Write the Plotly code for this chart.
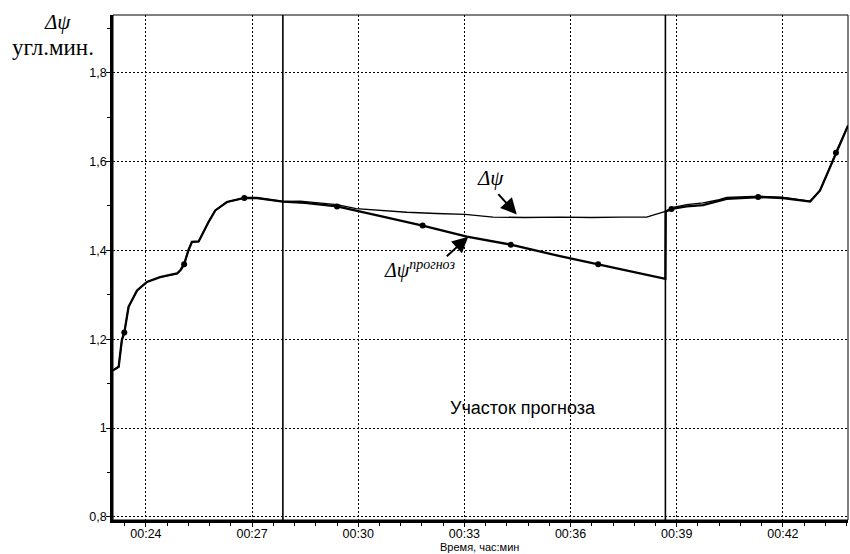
import plotly.graph_objects as go

# ---- data (minutes, angular minutes) ----
t_pre = [23.07, 23.23, 23.32, 23.39, 23.51, 23.75, 24.03, 24.40, 24.88, 24.98, 25.08,
         25.20, 25.30, 25.49, 25.77, 25.96, 26.29, 26.78, 27.14, 27.50, 27.87]
psi_pre = [1.130, 1.138, 1.198, 1.215, 1.273, 1.310, 1.329, 1.340, 1.348, 1.356, 1.369,
           1.400, 1.419, 1.420, 1.464, 1.490, 1.509, 1.518, 1.518, 1.514, 1.510]

t_meas_mid = [27.87, 28.36, 28.90, 29.40, 29.94, 30.60, 31.37, 32.20, 33.02, 33.81,
              34.70, 35.71, 36.60, 37.40, 38.15, 38.68]
psi_meas_mid = [1.510, 1.511, 1.507, 1.503, 1.494, 1.490, 1.486, 1.483, 1.481, 1.475,
                1.474, 1.475, 1.474, 1.475, 1.475, 1.488]

t_fc = [27.87, 28.50, 29.40, 30.60, 31.82, 33.07, 34.31, 35.70, 36.78, 37.40, 38.68, 38.69]
psi_fc = [1.510, 1.507, 1.499, 1.478, 1.456, 1.431, 1.413, 1.387, 1.369, 1.359, 1.336, 1.488]

t_post = [38.69, 38.90, 39.28, 39.74, 40.41, 41.35, 42.00, 42.77, 43.05, 43.33, 43.52, 43.84]
psi_post = [1.488, 1.494, 1.499, 1.502, 1.516, 1.520, 1.518, 1.510, 1.535, 1.587, 1.625, 1.681]

t_meas_post = [38.68, 38.90, 39.28, 39.74, 40.20, 40.41, 41.35, 42.00, 42.77, 43.05, 43.33, 43.52, 43.84]
psi_meas_post = [1.488, 1.497, 1.503, 1.507, 1.514, 1.519, 1.522, 1.519, 1.511, 1.535, 1.587, 1.625, 1.681]

t_marks = [23.39, 25.08, 26.78, 29.40, 31.82, 34.31, 36.78, 38.85, 41.30, 43.50]
psi_marks = [1.215, 1.369, 1.518, 1.499, 1.456, 1.413, 1.369, 1.493, 1.520, 1.620]

t_bounds = [27.87, 38.68]

x_tickvals = [24, 27, 30, 33, 36, 39, 42]
x_ticktext = ["00:24", "00:27", "00:30", "00:33", "00:36", "00:39", "00:42"]
y_tickvals = [0.8, 1.0, 1.2, 1.4, 1.6, 1.8]
y_ticktext = ["0,8", "1", "1,2", "1,4", "1,6", "1,8"]

fig = go.Figure()

# measured line (thin)
fig.add_trace(go.Scatter(x=t_pre + t_meas_mid + t_meas_post,
                         y=psi_pre + psi_meas_mid + psi_meas_post,
                         mode="lines", line=dict(color="black", width=1.4),
                         showlegend=False, hoverinfo="skip"))
# model / forecast line (thicker)
fig.add_trace(go.Scatter(x=t_pre + t_fc + t_post,
                         y=psi_pre + psi_fc + psi_post,
                         mode="lines", line=dict(color="black", width=2.3),
                         showlegend=False, hoverinfo="skip"))
# markers
fig.add_trace(go.Scatter(x=t_marks, y=psi_marks, mode="markers",
                         marker=dict(color="black", size=6),
                         showlegend=False, hoverinfo="skip"))

for tb in t_bounds:
    fig.add_shape(type="line", xref="x", yref="paper", x0=tb, x1=tb, y0=0, y1=1,
                  line=dict(color="black", width=1.6))

# thin frame on top/right
fig.add_shape(type="rect", xref="paper", yref="paper", x0=0, x1=1, y0=0, y1=1,
              line=dict(color="black", width=1))

serif = "Liberation Serif"
sans = "Liberation Sans"

fig.add_annotation(xref="paper", yref="paper", x=-0.075, y=0.986, text="<i>Δψ</i>",
                   xanchor="center", yanchor="middle",
                   showarrow=False, font=dict(family=serif, size=21, color="black"))
fig.add_annotation(xref="paper", yref="paper", x=-0.082, y=0.935, text="угл.мин.",
                   xanchor="center", yanchor="middle",
                   showarrow=False, font=dict(family=serif, size=23, color="black"))
fig.add_annotation(xref="paper", yref="paper", x=0.499, y=-0.053, text="Время, час:мин",
                   xanchor="center", yanchor="middle",
                   showarrow=False, font=dict(family=sans, size=11, color="black"))
fig.add_annotation(x=34.66, y=1.045, text="Участок прогноза", showarrow=False,
                   xanchor="center", yanchor="middle",
                   font=dict(family=sans, size=18, color="black"))

fig.add_annotation(x=33.73, y=1.562, text="<i>Δψ</i>", showarrow=False,
                   xanchor="center", yanchor="middle",
                   font=dict(family=serif, size=21, color="black"))
fig.add_annotation(x=31.72, y=1.357, text="<i>Δψ</i><sup><i>прогноз</i></sup>", showarrow=False,
                   xanchor="center", yanchor="middle",
                   font=dict(family=serif, size=20, color="black"))

# arrows
fig.add_annotation(x=34.48, y=1.481, text=" ", showarrow=True, ax=-20, ay=-22,
                   arrowhead=2, arrowsize=1.6, arrowwidth=2, arrowcolor="black",
                   font=dict(size=1))
fig.add_annotation(x=33.11, y=1.431, text=" ", showarrow=True, ax=-23, ay=21,
                   arrowhead=2, arrowsize=1.6, arrowwidth=2, arrowcolor="black",
                   font=dict(size=1))

fig.update_layout(
    width=850, height=554,
    margin=dict(l=113, r=2, t=15, b=34),
    paper_bgcolor="white", plot_bgcolor="white",
    font=dict(family=sans, size=12, color="black"),
    xaxis=dict(range=[23.07, 43.84], tickvals=x_tickvals, ticktext=x_ticktext,
               showgrid=True, gridcolor="black", griddash="2px,2px", gridwidth=1,
               zeroline=False, showline=True, linecolor="black", linewidth=2.5,
               ticks="outside", ticklen=4, tickcolor="black", ticklabelstandoff=-4,
               tickfont=dict(family=sans, size=12.5, color="black"),
               minor=dict(dtick=0.6, tick0=24, ticks="outside", ticklen=3,
                          tickcolor="black", showgrid=False)),
    yaxis=dict(range=[0.793, 1.93], tickvals=y_tickvals, ticktext=y_ticktext,
               showgrid=True, gridcolor="black", griddash="2px,2px", gridwidth=1,
               zeroline=False, showline=True, linecolor="black", linewidth=2.5,
               ticks="outside", ticklen=4, tickcolor="black", ticklabelstandoff=-3,
               tickfont=dict(family=sans, size=12.5, color="black"),
               minor=dict(dtick=0.1, tick0=0.8, ticks="outside", ticklen=3,
                          tickcolor="black", showgrid=False)),
)

fig.write_html("out.html", config={"displayModeBar": False},
               post_script="document.body.style.margin='0';document.body.style.overflow='hidden';")
